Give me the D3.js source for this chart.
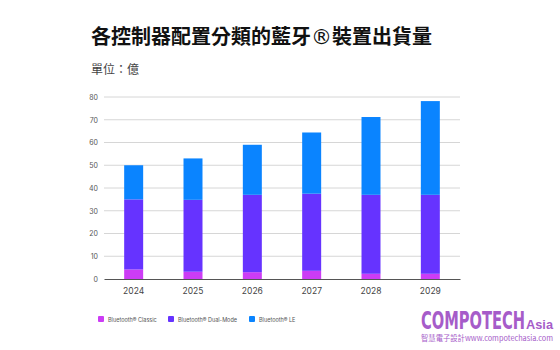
<!DOCTYPE html>
<html>
<head>
<meta charset="utf-8">
<script src="https://cdn.jsdelivr.net/npm/d3@7"></script>
<style>
  body { margin: 0; background: #fff; }
  text { font-family: Inter, "Noto Sans CJK TC", sans-serif; }
</style>
</head>
<body>
<svg id="chart"></svg>
<script>
var years = ["2024", "2025", "2026", "2027", "2028", "2029"];
var classic = [4.2, 3.2, 3.0, 3.6, 2.3, 2.3];
var dualMode = [30.8, 31.6, 34.0, 33.9, 34.7, 34.7];
var le = [15.0, 18.2, 22.0, 26.9, 34.2, 41.2];
var yTicks = [0, 10, 20, 30, 40, 50, 60, 70, 80];
var seriesNames = ["Bluetooth® Classic", "Bluetooth® Dual-Mode", "Bluetooth® LE"];
var seriesColors = ["#cc3cf5", "#6633ff", "#0a84ff"];

var svgWidth = 560, svgHeight = 350;
var margin = { top: 97, right: 100, bottom: 71, left: 104 };
var width = svgWidth - margin.left - margin.right;
var height = svgHeight - margin.top - margin.bottom;

var svg = d3.select("#chart")
    .attr("width", svgWidth)
    .attr("height", svgHeight);

// title
var title = svg.append("text")
    .attr("x", 91)
    .attr("y", 44)
    .style("font-family", "'Noto Sans CJK TC'")
    .style("font-size", "20px")
    .style("font-weight", "bold")
    .attr("fill", "#111");
title.append("tspan").text("各控制器配置分類的藍牙");
title.append("tspan")
    .style("font-family", "'DejaVu Sans'")
    .style("font-weight", "normal")
    .style("font-size", "21px")
    .text("®");
title.append("tspan").text("裝置出貨量");

svg.append("text")
    .attr("x", 91)
    .attr("y", 74)
    .style("font-family", "'Noto Sans CJK TC'")
    .style("font-size", "12px")
    .attr("fill", "#444")
    .text("單位：億");

var g = svg.append("g")
    .attr("transform", "translate(" + margin.left + "," + margin.top + ")");

var x = d3.scaleBand()
    .domain(years)
    .range([0, width])
    .paddingInner(0.68)
    .paddingOuter(0.34);

var y = d3.scaleLinear()
    .domain([0, 80])
    .range([height, 0]);

// gridlines
g.append("g")
    .selectAll("line")
    .data(yTicks.slice(1))
    .enter().append("line")
    .attr("x1", 0)
    .attr("x2", width)
    .attr("y1", function(d) { return y(d); })
    .attr("y2", function(d) { return y(d); })
    .attr("stroke", "#d6d6d6")
    .attr("stroke-width", 1);

// y axis labels
var yAxis = g.append("g")
    .call(d3.axisLeft(y).tickValues(yTicks).tickSize(0).tickPadding(6));
yAxis.select(".domain").remove();
yAxis.selectAll("text")
    .style("font-size", "7px")
    .attr("fill", "#555");

// stacked data
var rows = years.map(function(yr, i) {
    return { year: yr, classic: classic[i], dual: dualMode[i], le: le[i] };
});
var stack = d3.stack().keys(["classic", "dual", "le"]);
var layers = stack(rows);

g.selectAll(".layer")
    .data(layers)
    .enter().append("g")
    .attr("fill", function(d, i) { return seriesColors[i]; })
    .selectAll("rect")
    .data(function(d) { return d; })
    .enter().append("rect")
    .attr("x", function(d) { return x(d.data.year); })
    .attr("width", x.bandwidth())
    .attr("y", function(d) { return y(d[1]); })
    .attr("height", function(d) { return y(d[0]) - y(d[1]); });

// x axis
var xAxis = g.append("g")
    .attr("transform", "translate(0," + height + ")")
    .call(d3.axisBottom(x).tickSize(0).tickPadding(9));
xAxis.select(".domain")
    .attr("stroke", "#555")
    .attr("stroke-width", 1.2);
xAxis.selectAll("text")
    .style("font-size", "8.5px")
    .attr("fill", "#444");

// legend
var legendX = [98, 168, 249];
var legend = svg.append("g");
seriesNames.forEach(function(name, i) {
    legend.append("rect")
        .attr("x", legendX[i])
        .attr("y", 316)
        .attr("width", 6)
        .attr("height", 6)
        .attr("rx", 1)
        .attr("fill", seriesColors[i]);
    legend.append("text")
        .attr("x", legendX[i] + 10)
        .attr("y", 321.5)
        .style("font-size", "5.5px")
        .attr("fill", "#555")
        .text(name);
});

// logo
var logoColor = "#a65cc9";
svg.append("text")
    .attr("x", 421)
    .attr("y", 329)
    .style("font-family", "'Liberation Sans Narrow', 'DejaVu Sans Condensed', sans-serif")
    .style("font-weight", "bold")
    .style("font-size", "25px")
    .attr("textLength", 104)
    .attr("lengthAdjust", "spacingAndGlyphs")
    .attr("fill", logoColor)
    .text("COMPOTECH");
svg.append("text")
    .attr("x", 526)
    .attr("y", 329)
    .style("font-family", "'Liberation Sans Narrow', sans-serif")
    .style("font-size", "12px")
    .style("font-weight", "bold")
    .attr("textLength", 27)
    .attr("lengthAdjust", "spacingAndGlyphs")
    .attr("fill", logoColor)
    .text("Asia");
svg.append("text")
    .attr("x", 421)
    .attr("y", 341)
    .style("font-family", "'Noto Sans CJK TC'")
    .style("font-size", "7.5px")
    .attr("textLength", 132)
    .attr("lengthAdjust", "spacingAndGlyphs")
    .attr("fill", logoColor)
    .text("智慧電子設計www.compotechasia.com");
</script>
</body>
</html>
